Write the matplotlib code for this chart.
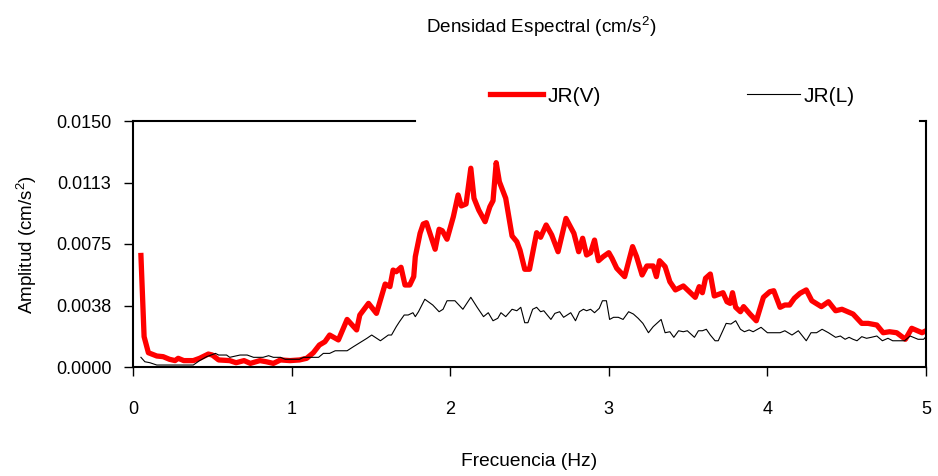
import numpy as np
import matplotlib
matplotlib.use("Agg")
import matplotlib.pyplot as plt

plt.rcParams['font.family'] = ['Liberation Sans', 'DejaVu Sans']
plt.rcParams['mathtext.fontset'] = 'custom'
plt.rcParams['mathtext.rm'] = 'Liberation Sans'
plt.rcParams['mathtext.it'] = 'Liberation Sans'

# JR(V) - vertical component
freq_v = [0.05, 0.07, 0.097, 0.15, 0.19, 0.23, 0.265, 0.285, 0.32, 0.38, 0.42, 0.475, 0.50, 0.54,
          0.61, 0.65, 0.70, 0.74, 0.80, 0.84, 0.885, 0.93, 0.99, 1.05, 1.095, 1.137, 1.175, 1.21,
          1.24, 1.295, 1.35, 1.41, 1.43, 1.485, 1.535, 1.59, 1.62, 1.64, 1.66, 1.69, 1.715, 1.745,
          1.77, 1.78, 1.81, 1.83, 1.85, 1.905, 1.93, 1.95, 1.98, 2.02, 2.05, 2.07, 2.10, 2.13,
          2.15, 2.18, 2.22, 2.25, 2.27, 2.29, 2.31, 2.35, 2.39, 2.42, 2.44, 2.47, 2.50, 2.545,
          2.57, 2.605, 2.64, 2.68, 2.73, 2.78, 2.81, 2.835, 2.86, 2.885, 2.91, 2.935, 2.965, 3.00,
          3.02, 3.05, 3.10, 3.15, 3.175, 3.21, 3.24, 3.28, 3.30, 3.32, 3.355, 3.385, 3.42, 3.47,
          3.545, 3.57, 3.59, 3.61, 3.64, 3.665, 3.72, 3.745, 3.765, 3.78, 3.80, 3.83, 3.85, 3.89,
          3.93, 3.975, 4.015, 4.04, 4.08, 4.11, 4.14, 4.17, 4.205, 4.245, 4.28, 4.34, 4.385, 4.43,
          4.47, 4.54, 4.595, 4.635, 4.69, 4.73, 4.77, 4.815, 4.87, 4.91, 4.975, 5.0]
amp_v = [0.0068, 0.00185, 0.00087, 0.00067, 0.00063, 0.00047, 0.00039, 0.00053, 0.00039, 0.00039,
         0.00053, 0.00079, 0.00073, 0.00043, 0.00039, 0.00026, 0.00039, 0.00022, 0.00039, 0.00032,
         0.00022, 0.00043, 0.00039, 0.00043, 0.00053, 0.00087, 0.00134, 0.00154, 0.00195, 0.00165,
         0.0029, 0.00226, 0.00317, 0.00388, 0.00327, 0.00506, 0.0049, 0.00591, 0.00581, 0.00608,
         0.005, 0.005, 0.00551, 0.00673, 0.00815, 0.00872, 0.0088, 0.00718, 0.0084, 0.00831,
         0.00779, 0.00917, 0.01049, 0.00982, 0.00994, 0.01212, 0.01029, 0.00957, 0.00886, 0.00977,
         0.01014, 0.01246, 0.0113, 0.01029, 0.00799, 0.00764, 0.00713, 0.00596, 0.00596, 0.00819,
         0.00791, 0.00866, 0.00805, 0.00703, 0.00906, 0.00815, 0.00703, 0.00785, 0.00683, 0.00697,
         0.00774, 0.00648, 0.00673, 0.00697, 0.00663, 0.00602, 0.00551, 0.00734, 0.00673, 0.00561,
         0.00616, 0.00616, 0.00551, 0.00648, 0.00612, 0.0052, 0.0047, 0.00494, 0.00425, 0.0049,
         0.00453, 0.00541, 0.00567, 0.00433, 0.00453, 0.00398, 0.00388, 0.00453, 0.00364, 0.00337,
         0.00368, 0.00323, 0.00282, 0.00425, 0.00459, 0.00465, 0.00364, 0.00378, 0.00378, 0.00419,
         0.00449, 0.0047, 0.00404, 0.00368, 0.00398, 0.00343, 0.00352, 0.00323, 0.00266, 0.00266,
         0.00256, 0.00209, 0.00215, 0.00209, 0.00169, 0.00236, 0.00209, 0.00221]

# JR(L)
freq_l = [0.05, 0.075, 0.107, 0.15, 0.38, 0.42, 0.465, 0.52, 0.54, 0.59, 0.61, 0.675, 0.72, 0.76,
          0.82, 0.855, 0.885, 0.93, 0.96, 1.05, 1.075, 1.17, 1.20, 1.24, 1.275, 1.35, 1.39, 1.44,
          1.475, 1.505, 1.56, 1.61, 1.63, 1.66, 1.68, 1.71, 1.735, 1.765, 1.78, 1.80, 1.84, 1.87,
          1.89, 1.93, 1.955, 1.98, 2.03, 2.08, 2.13, 2.17, 2.21, 2.24, 2.27, 2.30, 2.32, 2.35,
          2.39, 2.42, 2.445, 2.47, 2.49, 2.52, 2.545, 2.57, 2.59, 2.635, 2.66, 2.69, 2.715, 2.76,
          2.79, 2.815, 2.84, 2.86, 2.885, 2.91, 2.94, 2.96, 2.985, 3.005, 3.03, 3.06, 3.09, 3.125,
          3.155, 3.185, 3.215, 3.25, 3.28, 3.33, 3.355, 3.385, 3.41, 3.44, 3.47, 3.495, 3.54, 3.565,
          3.59, 3.615, 3.64, 3.67, 3.69, 3.74, 3.77, 3.80, 3.83, 3.855, 3.885, 3.91, 3.96, 4.00,
          4.08, 4.11, 4.155, 4.195, 4.245, 4.275, 4.31, 4.345, 4.385, 4.43, 4.46, 4.49, 4.515, 4.54,
          4.565, 4.595, 4.625, 4.655, 4.69, 4.725, 4.76, 4.79, 4.865, 4.90, 4.95, 4.985, 5.0]
amp_l = [0.00059, 0.00032, 0.00026, 0.00012, 0.00012, 0.00039, 0.00063, 0.00083, 0.00073, 0.00073,
         0.00059, 0.00073, 0.00073, 0.00059, 0.00059, 0.00069, 0.00059, 0.00059, 0.00047, 0.00047,
         0.00059, 0.00059, 0.00083, 0.00083, 0.00099, 0.00099, 0.00124, 0.00154, 0.00175, 0.00195,
         0.0016, 0.00195, 0.00195, 0.00246, 0.00276, 0.00317, 0.00317, 0.00331, 0.00307, 0.00337,
         0.00413, 0.00392, 0.00378, 0.00337, 0.00352, 0.00404, 0.00404, 0.00352, 0.00425, 0.00364,
         0.00307, 0.00331, 0.00282, 0.00297, 0.00331, 0.00307, 0.00352, 0.00343, 0.00364, 0.0027,
         0.0027, 0.00352, 0.00364, 0.00337, 0.00343, 0.0029, 0.00327, 0.00337, 0.00303, 0.00331,
         0.00282, 0.00337, 0.00352, 0.00343, 0.00352, 0.00331, 0.00358, 0.00404, 0.00404, 0.0029,
         0.00303, 0.00303, 0.0029, 0.00337, 0.00323, 0.00297, 0.00266, 0.00209, 0.00246, 0.0029,
         0.00209, 0.00215, 0.00181, 0.00221, 0.00215, 0.00221, 0.00181, 0.00221, 0.00221, 0.0023,
         0.00195, 0.0016, 0.0016, 0.00266, 0.00262, 0.00282, 0.0023, 0.00215, 0.00226, 0.00215,
         0.00242, 0.00209, 0.00209, 0.00221, 0.00195, 0.00221, 0.0016, 0.00209, 0.00209, 0.0023,
         0.00209, 0.00181, 0.00189, 0.00169, 0.00181, 0.00169, 0.0016, 0.00185, 0.00175, 0.00181,
         0.00189, 0.0016, 0.00175, 0.0016, 0.0016, 0.00189, 0.00169, 0.00169, 0.00185]

yticks = [0.0, 0.00375, 0.0075, 0.01125, 0.015]
ytick_labels = ["0.0000", "0.0038", "0.0075", "0.0113", "0.0150"]
xticks = [0, 1, 2, 3, 4, 5]

fig = plt.figure(figsize=(9.38, 4.76), dpi=100)
ax = fig.add_axes([133/938, 1 - 367/476, (926-133)/938, (367-121)/476])

ax.plot(freq_v, amp_v, color='#ff0000', lw=3.8, solid_joinstyle='round', label='JR(V)')
ax.plot(freq_l, amp_l, color='black', lw=0.8, label='JR(L)')

ax.set_xlim(0, 5)
ax.set_ylim(0, 0.015)
ax.set_xticks(xticks)
ax.set_yticks(yticks)
ax.set_yticklabels(ytick_labels)
ax.tick_params(axis='both', direction='out', length=6.5, width=1, labelsize=13)
ax.tick_params(axis='x', pad=18)
ax.tick_params(axis='y', pad=9)

for s in ['left', 'bottom', 'right', 'top']:
    ax.spines[s].set_linewidth(1.5)
ax.spines['top'].set_bounds(0, 1.78)
# small stub of the top frame next to the right axis
ax.axhline(0.015, xmin=0.992, xmax=1.0, color='black', lw=1.5, clip_on=False)

ax.set_xlabel('Frecuencia (Hz)', fontsize=13.8, labelpad=25)
ax.set_ylabel('Amplitud (cm/s$^2$)', fontsize=13.5, labelpad=12)
fig.text(541/938, 1 - 27/476, 'Densidad Espectral (cm/s$^2$)', fontsize=13.6,
         ha='center', va='center')

fig.legend(loc='center left', bbox_to_anchor=(490/938, 1 - 96/476), ncol=2, frameon=False,
           fontsize=15, handlelength=2.55, handletextpad=0.2, columnspacing=7.0, borderpad=0,
           borderaxespad=0)

fig.savefig('out.png', dpi=100)
